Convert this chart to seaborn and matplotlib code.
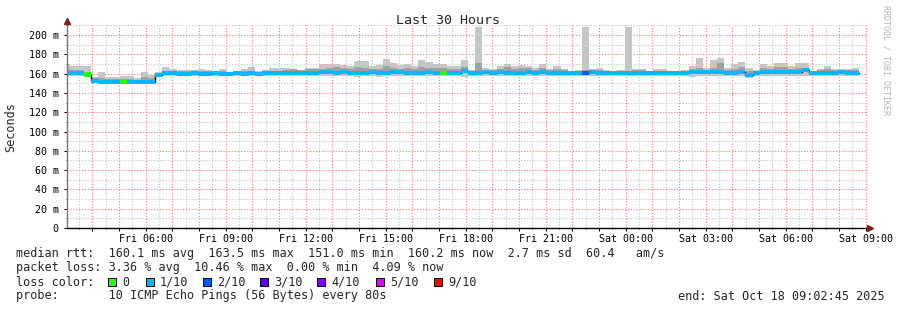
import numpy as np
import pandas as pd
import matplotlib
matplotlib.use("Agg")
import matplotlib.pyplot as plt
import matplotlib.dates as mdates
from matplotlib.ticker import MultipleLocator, FuncFormatter
from matplotlib.patches import Rectangle
import seaborn as sns

# ---------------- data (16-minute consolidated bins) ----------------
bin_first = "2025-10-17 02:53:18"
bin_minutes = 16
view_start = "2025-10-17 03:02:45"
view_end = "2025-10-18 09:02:45"

median = [
    160.5, 160.5, 160.5, 159.0, 152.5, 151.0, 151.0, 151.0, 151.0, 151.0,
    151.0, 151.0, 151.0, 158.5, 160.5, 160.5, 160.0, 160.0, 160.5, 160.0,
    160.0, 160.5, 160.0, 160.0, 160.5, 160.0, 160.5, 160.0, 160.5, 160.5,
    160.5, 160.5, 161.0, 161.0, 161.0, 161.0, 161.5, 161.5, 161.0, 161.5,
    161.0, 160.5, 161.0, 161.5, 161.0, 161.0, 161.5, 161.5, 161.0, 161.0,
    161.0, 161.5, 161.0, 160.5, 161.0, 161.0, 162.5, 161.0, 161.0, 161.5,
    161.0, 161.5, 161.0, 161.0, 161.0, 161.5, 161.0, 161.5, 161.0, 161.0,
    161.0, 161.0, 161.0, 161.0, 161.5, 161.0, 161.0, 161.0, 161.0, 161.0,
    161.0, 161.0, 161.0, 161.0, 161.0, 161.0, 161.0, 161.0, 161.5, 161.5,
    161.5, 161.5, 161.5, 161.0, 161.0, 161.5, 158.5, 161.0, 161.5, 161.5,
    161.5, 161.5, 161.5, 161.5, 163.5, 161.0, 161.0, 161.0, 161.0, 161.5,
    161.0, 161.0,
]

smoke_hi = [
    170, 168, 168, 167.5, 157, 162, 156.5, 157, 157.5, 157.5,
    155, 161.5, 158.5, 161.6, 166.6, 164.5, 164, 164, 164, 164.8,
    164, 161.7, 164.8, 161.7, 160.6, 164.8, 167, 163, 164, 166,
    166, 166, 165, 164, 166, 166, 169.6, 170.5, 170.5, 169,
    167.5, 173, 173, 167.5, 169, 175.3, 171.5, 169, 170, 168,
    174, 172, 170.5, 170, 168, 167.5, 174, 164, 208, 166,
    165, 168, 170, 167.5, 169, 168, 166, 170, 164.5, 168,
    165, 163, 164, 208, 165, 166, 164, 163, 164, 208,
    165, 165, 162.5, 165, 165, 161.6, 163, 164, 167.5, 176.5,
    166, 174, 176.5, 165.5, 169.6, 172, 166, 164, 170, 167.5,
    171, 171, 168, 171, 171, 162.5, 165, 168, 165, 165,
    165, 165.5,
]

smoke_lo = [
    157.5, 157.5, 158.0, 157.0, 150.5, 149.5, 149.0, 149.0, 149.0, 149.5,
    150.0, 149.5, 150.0, 156.5, 158.0, 158.0, 158.0, 157.5, 158.0, 158.0,
    158.0, 157.5, 158.0, 158.0, 158.0, 157.5, 158.0, 158.0, 157.5, 158.0,
    158.0, 158.0, 157.5, 158.0, 157.5, 158.0, 157.5, 158.0, 158.0, 157.5,
    158.0, 157.0, 157.5, 158.0, 157.0, 158.0, 157.5, 158.0, 157.5, 158.0,
    157.5, 158.0, 158.0, 157.5, 158.0, 158.0, 157.0, 158.0, 157.5, 158.0,
    158.0, 157.5, 158.0, 158.0, 157.5, 158.0, 158.0, 157.5, 158.0, 158.0,
    158.0, 158.0, 157.5, 158.0, 158.0, 158.0, 157.5, 158.0, 158.0, 157.5,
    158.0, 158.0, 158.0, 157.5, 158.0, 158.0, 158.0, 157.5, 157.0, 157.5,
    158.0, 157.5, 158.0, 158.0, 157.5, 158.0, 155.5, 157.5, 158.0, 158.0,
    157.5, 158.0, 158.0, 157.5, 158.0, 157.5, 158.0, 158.0, 158.0, 157.5,
    158.0, 157.5,
]

inner_hi = [
    165, 164, 164, 162, 155, 155, 154, 154, 154, 154,
    153, 157, 155, 159.5, 163, 162.5, 162.5, 162.5, 162, 162.5,
    162.5, 161, 163, 161, 160.5, 162.5, 163, 162, 162.5, 163,
    163, 163.5, 164.8, 164, 164.5, 164.5, 165, 166, 166.5, 166,
    165, 167, 166, 164.5, 165, 168, 166, 165, 166, 165,
    167, 166, 166, 166, 165, 164.5, 167, 163, 171, 164,
    163.5, 165, 167, 164.5, 165.5, 166, 164, 166, 163.5, 165,
    163.5, 162.5, 163, 164, 163.5, 164, 163, 162.5, 163, 163,
    163.5, 163.5, 162, 163, 163, 161, 162, 163, 165, 165.5,
    164, 166, 171, 163.5, 165, 166.5, 163, 163, 166, 164.5,
    166.5, 166.5, 165, 166, 166, 161.5, 164, 165, 164, 164,
    164, 164,
]

# lost pings (out of 10) per bin
loss = [
    1, 1, 1, 0, 1, 1, 1, 1, 0, 1,
    1, 1, 1, 1, 1, 1, 1, 1, 1, 1,
    1, 1, 1, 1, 1, 1, 1, 1, 1, 1,
    1, 1, 1, 1, 1, 1, 1, 1, 1, 1,
    1, 1, 1, 1, 1, 1, 1, 1, 1, 1,
    1, 1, 1, 0, 1, 1, 1, 1, 1, 1,
    1, 1, 1, 1, 1, 1, 1, 1, 1, 1,
    1, 1, 1, 2, 1, 1, 1, 1, 1, 1,
    1, 1, 1, 1, 1, 1, 1, 1, 1, 1,
    1, 1, 1, 1, 1, 1, 1, 1, 1, 1,
    1, 1, 1, 1, 1, 1, 1, 1, 1, 1,
    1, 1,
]

loss_keys = [0, 1, 2, 3, 4, 5, 9]
loss_labels = ["0", "1/10", "2/10", "3/10", "4/10", "5/10", "9/10"]
loss_colors = ["#26ff00", "#00b8ff", "#0059ff", "#5e00ff", "#7e00ff", "#dd00ff", "#ff0000"]

title = "Last 30 Hours"
ylabel = "Seconds"
line_rtt = "median rtt:  160.1 ms avg  163.5 ms max  151.0 ms min  160.2 ms now  2.7 ms sd  60.4   am/s"
line_loss = "packet loss: 3.36 % avg  10.46 % max  0.00 % min  4.09 % now"
line_color = "loss color:"
line_probe = "probe:       10 ICMP Echo Pings (56 Bytes) every 80s"
line_end = "end: Sat Oct 18 09:02:45 2025"
watermark = "RRDTOOL / TOBI OETIKER"

# ---------------- figure ----------------
sns.set_theme(style="white")
plt.rcParams["font.family"] = ["DejaVu Sans Mono"]

W, H = 897, 310
fig = plt.figure(figsize=(W / 100, H / 100), dpi=100)
fig.patch.set_facecolor("white")
ax = fig.add_axes([67 / W, 82 / H, 800 / W, 202.6 / H])
ax.set_facecolor("white")

starts = pd.date_range(bin_first, periods=len(median), freq=f"{bin_minutes}min")
t = mdates.date2num(starts.to_pydatetime())
w = bin_minutes / 1440.0
med = np.array(median)
lo = np.array(smoke_lo)
hi = np.array(smoke_hi)
inn = np.array(inner_hi)
pal = dict(zip(loss_keys, loss_colors))

# smoke
ax.bar(t, hi - lo, bottom=lo, width=w, align="edge", color="#c6c6c6", linewidth=0, zorder=2)
ax.bar(t, inn - med, bottom=med, width=w, align="edge", color="#a0a0a0", linewidth=0, zorder=3)

# black median step line
edges = mdates.date2num(pd.date_range(bin_first, periods=len(median) + 1,
                                      freq=f"{bin_minutes}min").to_pydatetime())
df = pd.DataFrame({"t": edges, "rtt": list(median) + [median[-1]]})
sns.lineplot(data=df, x="t", y="rtt", drawstyle="steps-post", color="black",
             linewidth=1.0, estimator=None, ax=ax, zorder=4)

# loss-coloured median
ax.bar(t, 4.4, bottom=med - 2.2, width=w, align="edge",
       color=[pal[v] for v in loss], linewidth=0, zorder=5)

ax.set_xlim(mdates.date2num(pd.Timestamp(view_start)), mdates.date2num(pd.Timestamp(view_end)))
ax.set_ylim(0, 210)
ax.set_xlabel("")
ax.set_ylabel("")

ax.xaxis.set_major_locator(mdates.HourLocator())
ax.xaxis.set_minor_locator(mdates.MinuteLocator(byminute=[30]))


def xfmt(v, p):
    d = mdates.num2date(v)
    return d.strftime("%a %H:%M") if d.hour % 3 == 0 else ""


ax.xaxis.set_major_formatter(FuncFormatter(xfmt))
ax.yaxis.set_major_locator(MultipleLocator(20))
ax.yaxis.set_minor_locator(MultipleLocator(10))
ax.yaxis.set_major_formatter(FuncFormatter(lambda v, p: "0" if v == 0 else f"{v:.0f} m"))

ax.grid(which="major", color="#ec8080", linestyle=(0, (1, 1.6)), linewidth=0.8, zorder=1)
ax.grid(which="minor", color="#c4c4c4", linestyle=(0, (1, 1.6)), linewidth=0.8, zorder=1)
ax.set_axisbelow(True)

ax.tick_params(axis="both", which="major", length=2, width=0.7, labelsize=7.2,
               colors="black", direction="out", bottom=True, left=True)
ax.tick_params(axis="y", which="major", pad=4)
ax.tick_params(axis="x", which="major", pad=2)
ax.tick_params(axis="both", which="minor", length=1, width=0.6, bottom=True, left=True)

for s in ["top", "right"]:
    ax.spines[s].set_visible(False)
ax.spines["left"].set_color("#777777")
ax.spines["left"].set_linewidth(1.0)
ax.spines["bottom"].set_color("black")
ax.spines["bottom"].set_linewidth(1.0)
ax.spines["left"].set_zorder(6)
ax.spines["bottom"].set_zorder(6)

# axis arrows
ax.plot([0], [1.0 + 4 / 202.6], marker="^", markersize=4.5, color="#7f1a1a",
        transform=ax.transAxes, clip_on=False, zorder=10)
ax.plot([1.0 + 3 / 800], [0], marker=">", markersize=4.5, color="#7f1a1a",
        transform=ax.transAxes, clip_on=False, zorder=10)

# texts
fig.text(448 / W, 1 - 20 / H, title, ha="center", va="center", fontsize=9.6)
fig.text(11 / W, 1 - 127 / H, ylabel, rotation=90, ha="center", va="center", fontsize=8.5)
fig.text(886 / W, 1 - 5 / H, watermark, rotation=270, ha="center", va="top",
         fontsize=6, color="#b4b4b4")

fs = 8.5
fig.text(16 / W, 1 - 254 / H, line_rtt, ha="left", va="center", fontsize=fs)
fig.text(16 / W, 1 - 268 / H, line_loss, ha="left", va="center", fontsize=fs)
fig.text(16 / W, 1 - 282 / H, line_color, ha="left", va="center", fontsize=fs)
fig.text(16 / W, 1 - 296 / H, line_probe, ha="left", va="center", fontsize=fs)
fig.text(678 / W, 1 - 296 / H, line_end, ha="left", va="center", fontsize=fs)

box_x = [108, 146, 203, 260, 317, 376, 434]
for bx, lab, col in zip(box_x, loss_labels, loss_colors):
    fig.add_artist(Rectangle((bx / W, 1 - 286 / H), 8 / W, 8 / H, transform=fig.transFigure,
                             facecolor=col, edgecolor="black", linewidth=0.7))
    fig.text((bx + 14) / W, 1 - 282 / H, lab, ha="left", va="center", fontsize=fs)

fig.savefig("out.png", dpi=100, facecolor="white")
